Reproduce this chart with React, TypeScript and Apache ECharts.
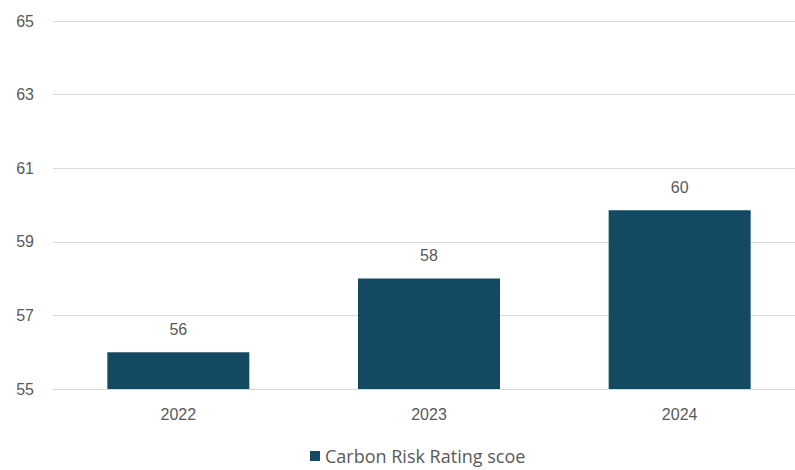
import React, { useEffect, useRef } from "react";
import * as echarts from "echarts";

const categories = ["2022", "2023", "2024"];
const values = [56, 58, 59.86];
const seriesName = "Carbon Risk Rating scoe";

export default function App() {
  const ref = useRef<HTMLDivElement>(null);
  useEffect(() => {
    if (!ref.current) return;
    const chart = echarts.init(ref.current, null, { renderer: "svg" });
    chart.setOption({
      animation: false,
      grid: { left: 53, width: 752, top: 21, bottom: 81, containLabel: false, outerBoundsMode: "none" },
      legend: {
        top: 447,
        left: 310,
        padding: 0,
        itemWidth: 10,
        itemHeight: 10,
        itemGap: 4,
        icon: "rect",
        textStyle: { color: "#595959", fontSize: 18, fontFamily: "Open Sans" },
        data: [seriesName],
      },
      xAxis: {
        type: "category",
        data: categories,
        axisLine: { show: true, lineStyle: { color: "#d9d9d9", width: 1 } },
        axisTick: { show: false },
        axisLabel: { color: "#595959", fontSize: 16, fontFamily: "Liberation Sans", margin: 17 },
      },
      yAxis: {
        type: "value",
        min: 55,
        max: 65,
        interval: 2,
        axisLine: { show: false },
        axisTick: { show: false },
        axisLabel: { color: "#595959", fontSize: 16, fontFamily: "Liberation Sans", margin: 19 },
        splitLine: { lineStyle: { color: "#d9d9d9", width: 1 } },
      },
      series: [
        {
          name: seriesName,
          type: "bar",
          data: values,
          barWidth: 142,
          itemStyle: { color: "#134a61" },
          label: {
            show: true,
            position: "top",
            distance: 15,
            color: "#595959",
            fontSize: 16,
            fontFamily: "Liberation Sans",
            formatter: (p: any) => Math.round(p.value).toString(),
          },
        },
      ],
    });
    return () => chart.dispose();
  }, []);
  return <div ref={ref} style={{ width: 795, height: 470, position: "absolute", left: 0, top: 0 }} />;
}
